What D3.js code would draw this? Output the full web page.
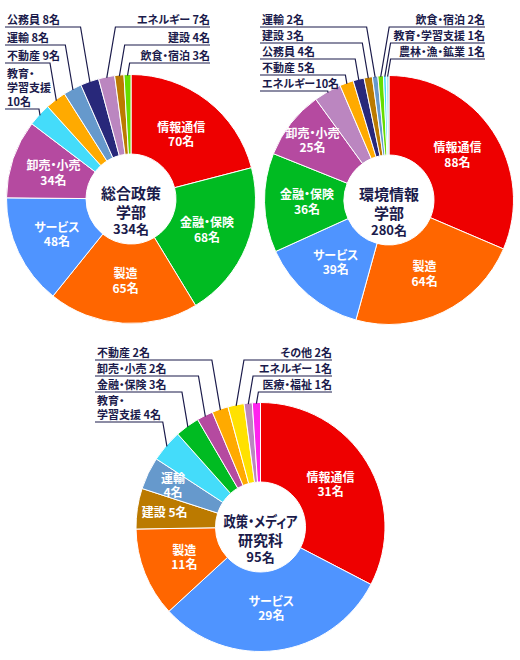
<!DOCTYPE html>
<html>
<head>
<meta charset="utf-8">
<script src="https://cdn.jsdelivr.net/npm/d3@7"></script>
<style>
  body { margin: 0; background: #fff; }
  svg text { font-family: "Noto Sans CJK JP", sans-serif; font-weight: bold; font-feature-settings: "palt"; }
</style>
</head>
<body>
<div id="chart"></div>
<script>
// 業種別の就職者数 (3 学部・研究科)
const sogoNames = ["情報通信", "金融・保険", "製造", "サービス", "卸売・小売", "教育・学習支援", "不動産", "運輸", "公務員", "エネルギー", "建設", "飲食・宿泊"];
const sogoValues = [70, 68, 65, 48, 34, 10, 9, 8, 8, 7, 4, 3];

const kankyoNames = ["情報通信", "製造", "サービス", "金融・保険", "卸売・小売", "エネルギー", "不動産", "公務員", "建設", "運輸", "飲食・宿泊", "教育・学習支援", "農林・漁・鉱業"];
const kankyoValues = [88, 64, 39, 36, 25, 10, 5, 4, 3, 2, 2, 1, 1];

const mediaNames = ["情報通信", "サービス", "製造", "建設", "運輸", "教育・学習支援", "金融・保険", "卸売・小売", "不動産", "その他", "エネルギー", "医療・福祉"];
const mediaValues = [31, 29, 11, 5, 4, 4, 3, 2, 2, 2, 1, 1];

// 業種の色
const industries = ["情報通信", "金融・保険", "製造", "サービス", "卸売・小売", "教育・学習支援", "不動産", "運輸", "公務員", "エネルギー", "建設", "飲食・宿泊", "農林・漁・鉱業", "その他", "医療・福祉"];
const industryColors = ["#ee0000", "#00bb22", "#ff6600", "#4f94ff", "#b54aa0", "#44dcfa", "#ffaa00", "#6699cc", "#28287a", "#bb86c0", "#bb7a00", "#66dd00", "#b0e4f0", "#ffe100", "#ff22ee"];

var color = d3.scaleOrdinal().domain(industries).range(industryColors);
var navy = "#1b1b4b";

var charts = [
  {
    names: sogoNames, values: sogoValues, cx: 131, cy: 199,
    title: ["総合政策", "学部"],
    inside: ["情報通信", "金融・保険", "製造", "サービス", "卸売・小売"],
    left: ["公務員", "運輸", "不動産", "教育・学習支援"],
    right: ["エネルギー", "建設", "飲食・宿泊"],
    breaks: { "教育・学習支援": v => ["教育・", "学習支援", v + "名"] },
    leftX: 7, rightX: 210, topY: 27, step: 18
  },
  {
    names: kankyoNames, values: kankyoValues, cx: 389, cy: 200,
    title: ["環境情報", "学部"],
    inside: ["情報通信", "製造", "サービス", "金融・保険", "卸売・小売"],
    left: ["運輸", "建設", "公務員", "不動産", "エネルギー"],
    right: ["飲食・宿泊", "教育・学習支援", "農林・漁・鉱業"],
    breaks: { "エネルギー": v => ["エネルギー" + v + "名"] },
    leftX: 262, rightX: 485, topY: 27, step: 16
  },
  {
    names: mediaNames, values: mediaValues, cx: 260.5, cy: 527,
    title: ["政策・メディア", "研究科"], titleWidth: 74,
    inside: ["情報通信", "サービス", "製造", "建設", "運輸"],
    oneLine: ["建設"],
    left: ["不動産", "卸売・小売", "金融・保険", "教育・学習支援"],
    right: ["その他", "エネルギー", "医療・福祉"],
    breaks: { "教育・学習支援": v => ["教育・", "学習支援 " + v + "名"] },
    leftX: 97, rightX: 332, topY: 360, step: 16
  }
];

var outerR = 124.5, innerR = 45;

var svg = d3.select("#chart")
  .append("svg")
  .attr("width", 520)
  .attr("height", 660);

var pie = d3.pie().sort(null).value(d => d.value);
var arc = d3.arc().innerRadius(innerR).outerRadius(outerR);
//small slices get their label pushed further out
var labelArc = d3.arc().innerRadius(82).outerRadius(82);
var labelArcSmall = d3.arc().innerRadius(97).outerRadius(97);

charts.forEach(function (c) {
  var data = c.names.map((n, i) => ({ name: n, value: c.values[i] }));
  var arcs = pie(data);
  var total = d3.sum(c.values);

  var g = svg.append("g")
    .attr("transform", "translate(" + c.cx + "," + c.cy + ")");

  //Slices
  g.selectAll("path.slice")
    .data(arcs)
    .enter()
    .append("path")
    .attr("class", "slice")
    .attr("d", arc)
    .attr("fill", d => color(d.data.name))
    .attr("stroke", "#fff")
    .attr("stroke-width", 1);

  //Labels inside the big slices
  arcs.filter(d => c.inside.includes(d.data.name)).forEach(function (d) {
    var small = (d.endAngle - d.startAngle) < 0.6;
    var p = (small ? labelArcSmall : labelArc).centroid(d);
    var t = g.append("text")
      .attr("x", p[0])
      .attr("y", p[1])
      .attr("text-anchor", "middle")
      .attr("fill", "#fff")
      .style("font-size", "12px");
    if (c.oneLine && c.oneLine.includes(d.data.name)) {
      t.append("tspan").attr("x", p[0]).attr("dy", "0.35em")
        .text(d.data.name + " " + d.data.value + "名");
    } else {
      t.append("tspan").attr("x", p[0]).attr("dy", "-0.2em").text(d.data.name);
      t.append("tspan").attr("x", p[0]).attr("dy", "1.2em").text(d.data.value + "名");
    }
  });

  //Labels outside with leader lines
  function outerLabels(list, side) {
    var y = c.topY;
    list.forEach(function (name, i) {
      var d = arcs.find(a => a.data.name === name);
      var lines = c.breaks[name] ? c.breaks[name](d.data.value) : [name + " " + d.data.value + "名"];
      if (i > 0) y += c.step + (lines.length - 1) * 14;
      var mid = (d.startAngle + d.endAngle) / 2;
      var ex = c.cx + (outerR - 1) * Math.sin(mid);
      var ey = c.cy - (outerR - 1) * Math.cos(mid);
      var kink = side === "left" ? ex - 0.17 * (ey - y) : ex + 0.17 * (ey - y);

      var x0 = side === "left" ? c.leftX - 2 : c.rightX;
      svg.append("polyline")
        .attr("points", [[x0, y], [kink, y], [ex, ey]].map(p => p.join(",")).join(" "))
        .attr("fill", "none")
        .attr("stroke", navy)
        .attr("stroke-width", 1.2);

      var t = svg.append("text")
        .attr("text-anchor", side === "left" ? "start" : "end")
        .attr("fill", navy)
        .style("font-size", "11px");
      lines.forEach(function (l, k) {
        t.append("tspan")
          .attr("x", side === "left" ? c.leftX : c.rightX)
          .attr("y", y - 3 - (lines.length - 1 - k) * 14)
          .text(l);
      });
    });
  }
  outerLabels(c.left, "left");
  outerLabels(c.right, "right");

  //Title in the hole
  var t1 = g.append("text").attr("text-anchor", "middle").attr("y", 0)
    .attr("fill", navy).style("font-size", "15px").text(c.title[0]);
  if (c.titleWidth) t1.attr("textLength", c.titleWidth).attr("lengthAdjust", "spacingAndGlyphs");
  g.append("text").attr("text-anchor", "middle").attr("y", 19)
    .attr("fill", navy).style("font-size", "15px").text(c.title[1]);
  g.append("text").attr("text-anchor", "middle").attr("y", 35)
    .attr("fill", navy).style("font-size", "13px").text(total + "名");
});
</script>
</body>
</html>
